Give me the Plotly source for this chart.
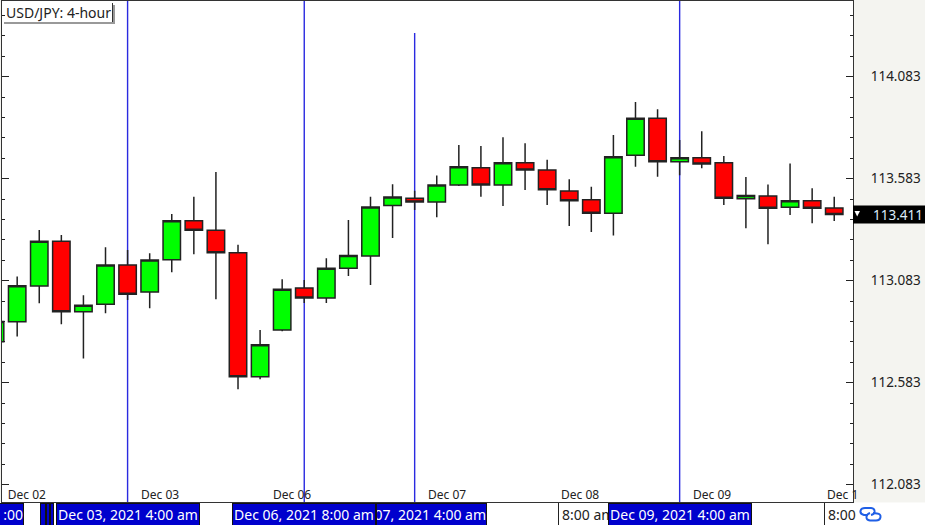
import plotly.graph_objects as go

# Candle index, date label and OHLC values
dates = ["Dec 01 20:00","Dec 02 00:00","Dec 02 04:00","Dec 02 08:00","Dec 02 12:00","Dec 02 16:00","Dec 02 20:00",
         "Dec 03 00:00","Dec 03 04:00","Dec 03 08:00","Dec 03 12:00","Dec 03 16:00","Dec 03 20:00","Dec 06 00:00",
         "Dec 06 04:00","Dec 06 08:00","Dec 06 12:00","Dec 06 16:00","Dec 06 20:00","Dec 07 00:00","Dec 07 04:00",
         "Dec 07 08:00","Dec 07 12:00","Dec 07 16:00","Dec 07 20:00","Dec 08 00:00","Dec 08 04:00","Dec 08 08:00",
         "Dec 08 12:00","Dec 08 16:00","Dec 08 20:00","Dec 09 00:00","Dec 09 04:00","Dec 09 08:00","Dec 09 12:00",
         "Dec 09 16:00","Dec 09 20:00","Dec 10 00:00","Dec 10 04:00"]
opens = [112.783,112.882,113.057,113.276,112.931,112.967,113.160,113.028,113.186,113.377,113.330,113.220,112.612,112.841,
         113.047,112.998,113.144,113.204,113.451,113.487,113.469,113.552,113.637,113.552,113.661,113.626,113.523,113.480,
         113.413,113.698,113.879,113.666,113.686,113.661,113.485,113.498,113.443,113.475,113.439]
highs = [112.890,113.103,113.332,113.307,113.011,113.247,113.233,113.217,113.410,113.495,113.616,113.259,112.841,113.090,
         113.086,113.193,113.381,113.495,113.556,113.524,113.598,113.748,113.743,113.786,113.757,113.676,113.580,113.544,
         113.797,113.959,113.923,113.773,113.815,113.694,113.591,113.554,113.658,113.536,113.495]
lows = [112.778,112.809,112.972,112.869,112.701,112.923,112.988,112.948,113.124,113.212,112.992,112.551,112.600,112.835,
        112.974,112.974,113.106,113.062,113.292,113.430,113.394,113.547,113.495,113.449,113.528,113.454,113.351,113.322,
        113.304,113.642,113.593,113.600,113.634,113.454,113.340,113.261,113.405,113.364,113.376]
closes = [112.883,113.058,113.276,112.931,112.962,113.160,113.016,113.184,113.377,113.330,113.220,112.612,112.769,113.041,
          112.998,113.144,113.206,113.444,113.493,113.469,113.552,113.642,113.552,113.661,113.626,113.529,113.475,113.413,
          113.691,113.879,113.666,113.686,113.655,113.487,113.500,113.438,113.475,113.438,113.407]
index = list(range(len(dates)))

tick_positions = [1.44, 7.47, 13.45, 20.47, 26.49, 32.47]
tick_labels = ["Dec 02", "Dec 03", "Dec 06", "Dec 07", "Dec 08", "Dec 09"]
clipped_tick_label = "Dec 1"
marker_candles = [6, 14, 31]
short_marker_candle = 19
last_price = "113.411"

L, R, T, B = 2, 72, 1, 23
W, H = 925, 525
PW, PH = W - L - R, H - T - B
px = lambda x: (x - L) / PW
py = lambda y: (H - B - y) / PH
FONT = "Noto Sans"

fig = go.Figure(go.Candlestick(
    x=index, open=opens, high=highs, low=lows, close=closes,
    text=dates, hoverinfo="text",
    increasing=dict(fillcolor="#00ff00", line=dict(color="#222222", width=1.5)),
    decreasing=dict(fillcolor="#ff0000", line=dict(color="#222222", width=1.5)),
))

shapes = [
    dict(type="rect", xref="paper", yref="paper", x0=px(0), x1=px(W), y0=py(H), y1=py(502.5),
         fillcolor="white", line_width=0, layer="below"),
]
for c in marker_candles:
    shapes.append(dict(type="line", xref="x", yref="paper", x0=c, x1=c, y0=0, y1=1,
                       line=dict(color="#2a2ae0", width=1.4), layer="below"))
shapes.append(dict(type="line", xref="x", yref="paper", x0=short_marker_candle, x1=short_marker_candle,
                   y0=0, y1=py(33), line=dict(color="#2a2ae0", width=1.4), layer="below"))
# title badge with its shadow
shapes.append(dict(type="line", xref="paper", yref="paper", x0=px(4), x1=px(115), y0=py(23), y1=py(23),
                   line=dict(color="#999999", width=2)))
shapes.append(dict(type="line", xref="paper", yref="paper", x0=px(114), x1=px(114), y0=py(24), y1=py(5),
                   line=dict(color="#999999", width=2)))
shapes.append(dict(type="line", xref="paper", yref="paper", x0=px(112.5), x1=px(112.5), y0=py(22), y1=py(3),
                   line=dict(color="#333333", width=1)))
# last price box
shapes.append(dict(type="rect", xref="paper", yref="paper", x0=px(853), x1=px(925), y0=py(223.5), y1=py(205.5),
                   fillcolor="black", line_width=0))
tri = f"M {px(854.5)} {py(211)} L {px(860)} {py(211)} L {px(857.2)} {py(216.5)} Z"
shapes.append(dict(type="path", xref="paper", yref="paper", path=tri, fillcolor="white", line_width=0))
# left edges of the uncovered time labels
for edge in (558.5, 824.5):
    shapes.append(dict(type="line", xref="paper", yref="paper", x0=px(edge), x1=px(edge), y0=py(525), y1=py(503),
                       line=dict(color="#222222", width=1)))
# link icon
def P(x, y):
    return f"{px(x)} {py(y)}"
loop_a = (f"M {P(868,515)} L {P(864,515)} Q {P(860,514)} {P(860.5,511)} Q {P(861,508)} {P(865,508)} "
          f"L {P(871,508)} Q {P(875,508.5)} {P(874.5,512)} Q {P(874,514.5)} {P(871,515)}")
loop_b = (f"M {P(873,513)} L {P(877,513.5)} Q {P(881,514)} {P(880.5,517)} Q {P(880,520.5)} {P(876,520.5)} "
          f"L {P(870,520.5)} Q {P(866,520)} {P(866.5,516.5)} Q {P(867,514)} {P(870,513)}")
for d in (loop_a, loop_b):
    shapes.append(dict(type="path", xref="paper", yref="paper", path=d,
                       line=dict(color="#1f5fe6", width=2), fillcolor="rgba(0,0,0,0)"))

def box(x0, x1, text, blue=True, align="center"):
    return dict(xref="paper", yref="paper", x=px(x0), y=py(503), xanchor="left", yanchor="top",
                width=x1 - x0 - 2, height=21, text=text, showarrow=False, align=align, borderpad=0,
                bgcolor="#0000cd", bordercolor="#111111", borderwidth=1,
                font=dict(family=FONT, size=14, color="white"))

def plain(x, text):
    return dict(xref="paper", yref="paper", x=px(x), y=py(514.5), xanchor="left", yanchor="middle",
                text=text, showarrow=False, font=dict(family=FONT, size=14, color="#222222"))

annotations = [
    box(-30, 24, ":00", align="right"),
    box(40, 46, ""), box(46, 50, ""), box(50, 54, ""),
    box(56, 200, "Dec 03, 2021 4:00 am"),
    box(232, 376, "Dec 06, 2021 8:00 am"),
    box(376, 487, "07, 2021 4:00 am", align="right"),
    plain(560, "8:00 am"),
    box(608, 752, "Dec 09, 2021 4:00 am"),
    plain(826, "8:00"),
    dict(xref="paper", yref="paper", x=px(825), y=py(494), xanchor="left", yanchor="middle",
         text=clipped_tick_label, showarrow=False, font=dict(family=FONT, size=12, color="#222222")),
    dict(xref="paper", yref="paper", x=px(4), y=py(12.5), xanchor="left", yanchor="middle",
         text="USD/JPY: 4-hour", showarrow=False, font=dict(family=FONT, size=14, color="#222222")),
    dict(xref="paper", yref="paper", x=px(871), y=py(214.5), xanchor="left", yanchor="middle",
         text=last_price, showarrow=False, font=dict(family=FONT, size=13.5, color="#dcecfa")),
]

fig.update_layout(
    width=W, height=H, margin=dict(l=L, r=R, t=T, b=B, pad=0),
    paper_bgcolor="#f4f4f0", plot_bgcolor="white", showlegend=False, boxgap=0.21, boxgroupgap=0,
    font=dict(family=FONT, color="#222222"),
    xaxis=dict(range=[0.3125, 38.85], rangeslider_visible=False, showgrid=False, zeroline=False,
               tickmode="array", tickvals=tick_positions, ticktext=tick_labels, ticks="",
               ticklabelposition="inside", tickfont=dict(size=12, family=FONT, color="#222222"),
               showline=True, linecolor="#333333", linewidth=1, mirror=True),
    yaxis=dict(range=[111.998, 114.454], side="right", showgrid=False, zeroline=False,
               tick0=112.083, dtick=0.5, tickformat=".3f", ticks="inside", ticklen=7, tickwidth=1,
               tickcolor="#222222", ticklabelstandoff=14, tickfont=dict(size=13.5, family=FONT, color="#222222"),
               minor=dict(tick0=112.083, dtick=0.1, ticks="inside", ticklen=3, tickwidth=1, tickcolor="#222222", showgrid=False),
               showline=True, linecolor="#333333", linewidth=1, mirror="ticks"),
    shapes=shapes, annotations=annotations,
)

fig.write_html("out.html", config={"displayModeBar": False},
               post_script="document.body.style.margin='0';document.body.style.overflow='hidden';")
